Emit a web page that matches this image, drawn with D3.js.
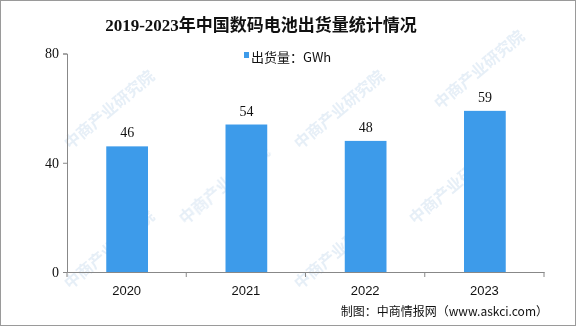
<!DOCTYPE html>
<html><head><meta charset="utf-8">
<script src="https://cdn.jsdelivr.net/npm/d3@7"></script>
<style>body{margin:0;background:#fff}svg{display:block}</style>
</head><body>
<svg id="c" width="576" height="326"></svg>
<script>
const categories = ["2020", "2021", "2022", "2023"];
const shipments = [46, 54, 48, 59];
const yTicks = [0, 40, 80];
const title = "2019-2023年中国数码电池出货量统计情况";
const legendLabel = "出货量：GWh";
const source = "制图：中商情报网（www.askci.com）";

const svg = d3.select("#c");
const W = 576, H = 326;
const m = {left: 67, right: 32, top: 53.5, bottom: 54};
const serif = "'Liberation Serif','Noto Sans CJK SC',serif";
const cjk = "'Noto Sans CJK SC','Liberation Sans',sans-serif";

svg.append("rect").attr("x",0.5).attr("y",0.5).attr("width",W-1).attr("height",H-1)
  .attr("fill","#fff").attr("stroke","#9a9a9a");

// watermarks
const wm = svg.append("g").attr("fill","#d6e4f2").attr("font-family",cjk).attr("font-size",16).attr("font-weight","bold").attr("opacity",0.6);
[[70,150],[300,150],[70,290],[300,290],[185,225],[415,225],[440,110]].forEach(([x,y])=>{
  wm.append("text").attr("transform",`translate(${x},${y}) rotate(-40)`).text("中商产业研究院");
});

const x = d3.scaleBand().domain(categories).range([m.left, W - m.right]).padding(0);
const y = d3.scaleLinear().domain([0, 80]).range([H - m.bottom, m.top]);

const barW = x.bandwidth() * 0.35;
svg.append("g").selectAll("rect").data(categories).join("rect")
  .attr("x", (d) => x(d) + x.bandwidth()/2 - barW/2 + 0.5)
  .attr("y", (d,i) => y(shipments[i]))
  .attr("width", barW)
  .attr("height", (d,i) => y(0) - y(shipments[i]))
  .attr("fill", "#3d9bea");

svg.append("g").selectAll("text").data(categories).join("text")
  .attr("x", (d) => x(d) + x.bandwidth()/2 + 0.5)
  .attr("y", (d,i) => y(shipments[i]) - 9)
  .attr("text-anchor","middle").attr("font-family",serif).attr("font-size",14)
  .attr("fill","#111").text((d,i) => shipments[i]);

// y axis
const ya = svg.append("g").attr("transform",`translate(${m.left},0)`)
  .call(d3.axisLeft(y).tickValues(yTicks).tickSize(4).tickPadding(4));
ya.select(".domain").attr("stroke","#888");
ya.selectAll(".tick line").attr("stroke","#888");
ya.selectAll("text").attr("font-family",serif).attr("font-size",14).attr("fill","#111");

// x axis
const xa = svg.append("g").attr("transform",`translate(0,${H - m.bottom})`)
  .call(d3.axisBottom(x).tickSize(0).tickPadding(14));
xa.select(".domain").attr("stroke","#888");
xa.selectAll("text").attr("font-family","'Liberation Sans',sans-serif").attr("font-size",13).attr("fill","#111");
const edges = categories.map(c => x(c)).concat([x.range()[1]]);
xa.selectAll(".edge").data(edges).join("line").attr("class","edge")
  .attr("x1",d=>d).attr("x2",d=>d).attr("y1",0).attr("y2",5).attr("stroke","#888");

// title
svg.append("text").attr("x",261).attr("y",31).attr("text-anchor","middle")
  .attr("font-family",serif).attr("font-weight","bold").attr("font-size",17)
  .attr("fill","#111").text(title);

// legend
svg.append("rect").attr("x",244).attr("y",52).attr("width",5).attr("height",6).attr("fill","#3d9bea");
svg.append("text").attr("x",251).attr("y",62).attr("font-family",cjk).attr("font-size",13)
  .attr("fill","#111").text(legendLabel);

// source
svg.append("text").attr("x",548).attr("y",316).attr("text-anchor","end")
  .attr("font-family",cjk).attr("font-size",12).attr("fill","#111").text(source);
</script>
</body></html>
